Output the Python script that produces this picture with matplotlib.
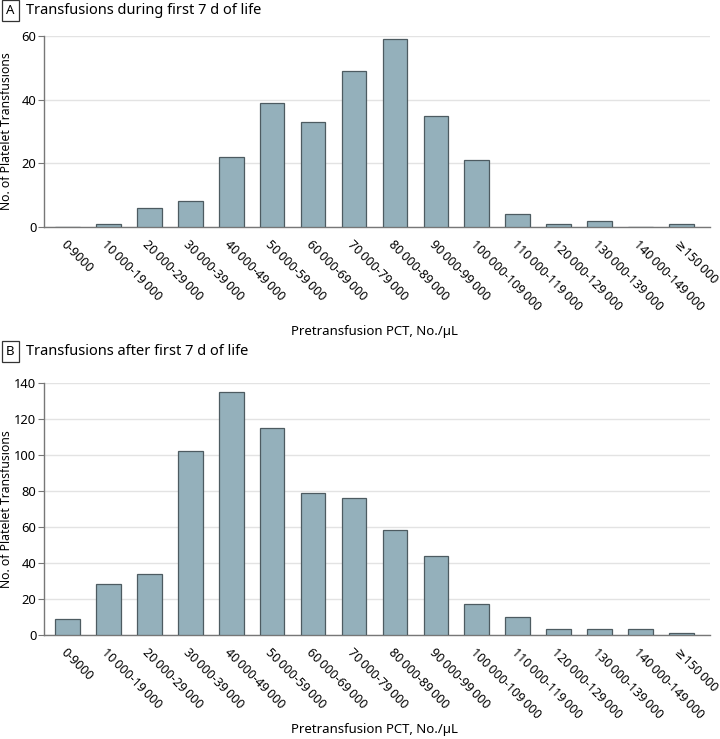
import numpy as np
import matplotlib.pyplot as plt

plt.rcParams['font.family'] = ['Noto Sans', 'DejaVu Sans']

T = '\u2009'
categories = ['0-9000'] + [f'{a}{T}000-{a + 9}{T}000' for a in range(10, 150, 10)] + [f'\u2265150{T}000']

first_week = [0, 1, 6, 8, 22, 39, 33, 49, 59, 35, 21, 4, 1, 2, 0, 1]
after_week = [9, 28, 34, 102, 135, 115, 79, 76, 58, 44, 17, 10, 3, 3, 3, 1]

titles = ['Transfusions during first 7 d of life', 'Transfusions after first 7 d of life']
letters = ['A', 'B']
ylims = [60, 140]
ysteps = [20, 20]

bar_color = '#94b0bb'
edge_color = '#4d5b61'

fig = plt.figure(figsize=(7.2, 7.39), dpi=100)
positions = [[0.061, 0.693, 0.925, 0.258], [0.061, 0.141, 0.925, 0.341]]
title_y = [0.986, 0.524]
xlabel_y = [-0.513, -0.349]

for i, vals in enumerate([first_week, after_week]):
    ax = fig.add_axes(positions[i])
    x = np.arange(len(categories))
    ax.bar(x, vals, width=0.6, color=bar_color, edgecolor=edge_color, linewidth=0.9, zorder=3)
    ax.set_xlim(-0.58, 15.7)
    ax.set_ylim(0, ylims[i])
    ax.set_yticks(np.arange(0, ylims[i] + 1, ysteps[i]))
    ax.yaxis.grid(True, color='#e3e3e3', linewidth=1, zorder=0)
    ax.set_xticks(x)
    ax.set_xticklabels(categories, rotation=-45, ha='left', va='top', rotation_mode='anchor', fontsize=9)
    ax.tick_params(axis='x', length=0, pad=8)
    ax.tick_params(axis='y', length=4, color='#777777', labelsize=9.3, pad=1.5)
    for s in ['top', 'right']:
        ax.spines[s].set_visible(False)
    for s in ['left', 'bottom']:
        ax.spines[s].set_color('#777777')
        ax.spines[s].set_linewidth(1)
    ax.set_ylabel('No. of Platelet Transfusions', fontsize=8.8)
    ax.yaxis.set_label_coords(-0.047, 0.5)
    ax.set_xlabel('Pretransfusion PCT, No./\u00b5L', fontsize=9.5)
    ax.xaxis.set_label_coords(0.497, xlabel_y[i])

    fig.text(0.0145, title_y[i], letters[i], fontsize=9.5, fontweight='bold', va='center', ha='center',
             bbox=dict(boxstyle='square,pad=0.3', facecolor='white', edgecolor='#333333', linewidth=0.9))
    fig.text(0.036, title_y[i], titles[i], fontsize=10.5, va='center', ha='left')

fig.savefig('out.png', dpi=100)
